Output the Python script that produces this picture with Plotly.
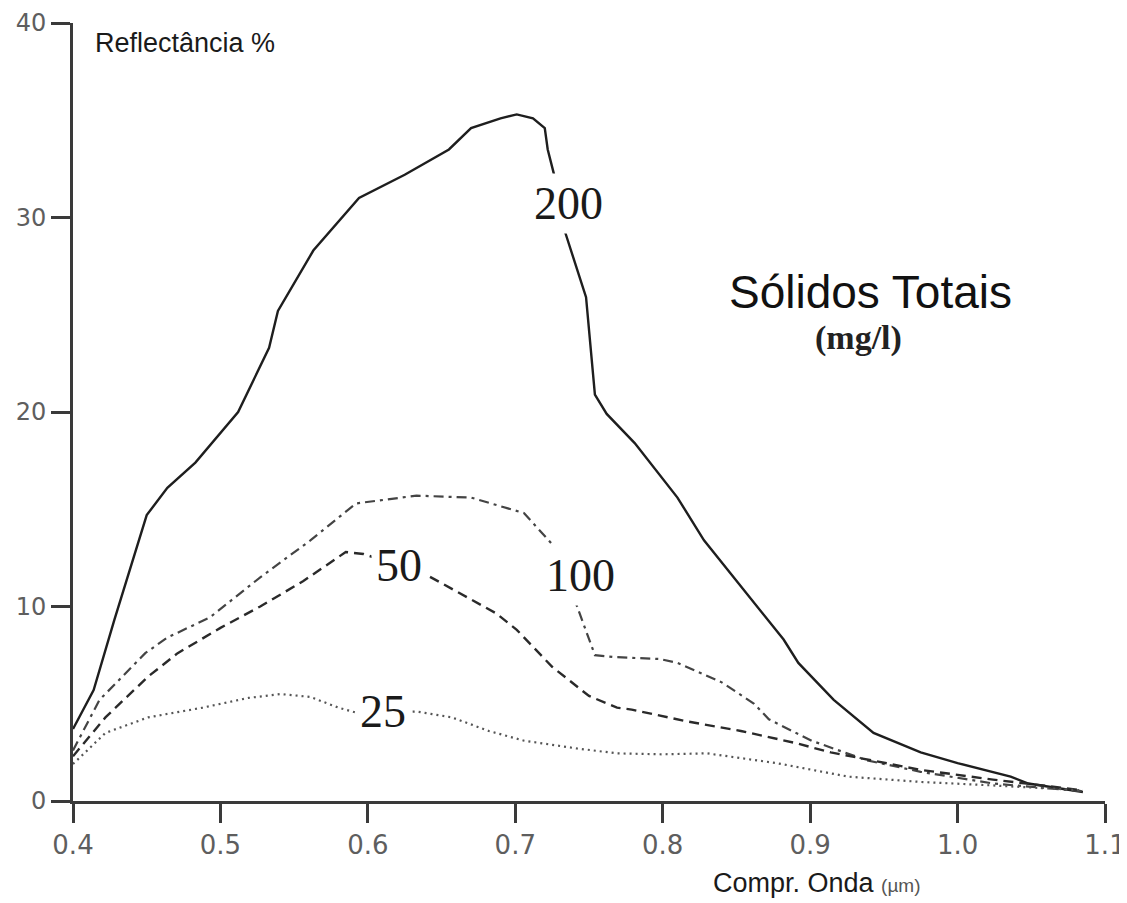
import plotly.graph_objects as go

# ---- data ----
wl_200 = [0.400, 0.414, 0.428, 0.450, 0.464, 0.483, 0.512, 0.533, 0.539, 0.563, 0.594, 0.625,
          0.655, 0.670, 0.690, 0.701, 0.712, 0.720, 0.722, 0.727, 0.734, 0.748, 0.754, 0.762,
          0.781, 0.800, 0.810, 0.828, 0.882, 0.892, 0.916, 0.943, 0.975, 1.000, 1.036, 1.048, 1.085]
refl_200 = [3.7, 5.7, 9.3, 14.7, 16.1, 17.4, 20.0, 23.3, 25.2, 28.3, 31.0, 32.2,
            33.5, 34.6, 35.1, 35.3, 35.1, 34.6, 33.5, 32.0, 29.2, 25.9, 20.9, 19.9,
            18.4, 16.6, 15.6, 13.4, 8.3, 7.1, 5.2, 3.5, 2.5, 1.95, 1.25, 0.9, 0.46]

wl_100 = [0.400, 0.418, 0.449, 0.464, 0.493, 0.527, 0.561, 0.592, 0.633, 0.670, 0.706, 0.725,
          0.740, 0.754, 0.767, 0.798, 0.810, 0.840, 0.862, 0.872, 0.901, 0.938, 0.975, 1.024, 1.085]
refl_100 = [2.6, 5.2, 7.6, 8.4, 9.45, 11.5, 13.4, 15.3, 15.7, 15.6, 14.8, 13.2,
            10.4, 7.5, 7.4, 7.3, 7.1, 6.1, 5.0, 4.2, 3.1, 2.1, 1.5, 0.9, 0.5]

wl_50 = [0.400, 0.422, 0.451, 0.471, 0.500, 0.527, 0.556, 0.585, 0.597, 0.638, 0.687, 0.701,
         0.725, 0.750, 0.769, 0.779, 0.816, 0.853, 0.889, 0.914, 0.975, 1.024, 1.085]
refl_50 = [2.3, 4.3, 6.4, 7.6, 8.9, 10.0, 11.3, 12.8, 12.7, 11.7, 9.65, 8.8,
           6.9, 5.4, 4.8, 4.7, 4.1, 3.6, 3.0, 2.5, 1.6, 1.1, 0.55]

wl_25 = [0.400, 0.422, 0.451, 0.488, 0.519, 0.541, 0.561, 0.580, 0.594, 0.633, 0.657, 0.682,
         0.706, 0.742, 0.769, 0.800, 0.830, 0.877, 0.926, 0.975, 1.024, 1.085]
refl_25 = [1.9, 3.5, 4.3, 4.8, 5.3, 5.5, 5.35, 4.8, 4.5, 4.6, 4.3, 3.6,
           3.1, 2.7, 2.45, 2.4, 2.45, 1.95, 1.25, 0.98, 0.8, 0.55]

x_ticks = [0.4, 0.5, 0.6, 0.7, 0.8, 0.9, 1.0, 1.1]
x_tick_labels = ["0.4", "0.5", "0.6", "0.7", "0.8", "0.9", "1.0", "1.1"]
y_ticks = [0, 10, 20, 30, 40]
y_tick_labels = ["0", "10", "20", "30", "40"]

curve_labels = ["200", "100", "50", "25"]
label_x = [0.736, 0.744, 0.621, 0.610]
label_y = [30.7, 11.6, 12.1, 4.6]

fig = go.Figure()
fig.add_trace(go.Scatter(x=wl_200, y=refl_200, mode="lines",
                         line=dict(color="#1e1e1e", width=2.4)))
fig.add_trace(go.Scatter(x=wl_100, y=refl_100, mode="lines",
                         line=dict(color="#444444", width=2.2, dash="10px,5px,3px,5px")))
fig.add_trace(go.Scatter(x=wl_50, y=refl_50, mode="lines",
                         line=dict(color="#2a2a2a", width=2.4, dash="10px,6px")))
fig.add_trace(go.Scatter(x=wl_25, y=refl_25, mode="lines",
                         line=dict(color="#555555", width=2.2, dash="2px,4px")))

annotations = []
for t, xx, yy in zip(curve_labels, label_x, label_y):
    annotations.append(dict(x=xx, y=yy, xref="x", yref="y", text=t, showarrow=False,
                            font=dict(family="Liberation Serif, Times New Roman, serif",
                                      size=46, color="#1a1a1a"),
                            bgcolor="white", borderpad=4, xanchor="center", yanchor="middle"))

annotations += [
    dict(x=0.0194, y=0.974, xref="paper", yref="paper", text="Reflectância %", showarrow=False,
         xanchor="left", yanchor="middle",
         font=dict(family="Liberation Sans, Arial, sans-serif", size=27, color="#1a1a1a")),
    dict(x=0.7725, y=0.654, xref="paper", yref="paper", text="Sólidos Totais", showarrow=False,
         xanchor="center", yanchor="middle",
         font=dict(family="Liberation Sans, Arial, sans-serif", size=46, color="#111111")),
    dict(x=0.7609, y=0.5955, xref="paper", yref="paper", text="<b>(mg/l)</b>", showarrow=False,
         xanchor="center", yanchor="middle",
         font=dict(family="Liberation Serif, Times New Roman, serif", size=34, color="#222222")),
    dict(x=0.6186, y=-0.105, xref="paper", yref="paper",
         text="Compr. Onda <span style='font-size:19px;color:#555555'>(µm)</span>",
         showarrow=False, xanchor="left", yanchor="middle",
         font=dict(family="Liberation Sans, Arial, sans-serif", size=27, color="#1a1a1a")),
]

axis_common = dict(showline=True, linecolor="#3a3a3a", linewidth=3, ticks="outside",
                   ticklen=19, tickwidth=3, tickcolor="#3a3a3a", showgrid=False,
                   zeroline=False, automargin=False, ticklabeloverflow="allow")

# the page body adds an 8px offset, so the figure is sized to fit the window
fig.update_layout(
    width=1119, height=895,
    margin=dict(l=65, r=22, t=15, b=102),
    paper_bgcolor="white", plot_bgcolor="white",
    showlegend=False,
    annotations=annotations,
    xaxis=dict(range=[0.4, 1.1], tickvals=x_ticks, ticktext=x_tick_labels,
               tickfont=dict(family="DejaVu Sans, sans-serif", size=26, color="#5e5e5e"),
               **axis_common),
    yaxis=dict(range=[0, 40], tickvals=y_ticks, ticktext=y_tick_labels,
               tickfont=dict(family="DejaVu Sans, sans-serif", size=24, color="#5e5e5e"),
               **axis_common),
)

fig.write_html("out.html")
